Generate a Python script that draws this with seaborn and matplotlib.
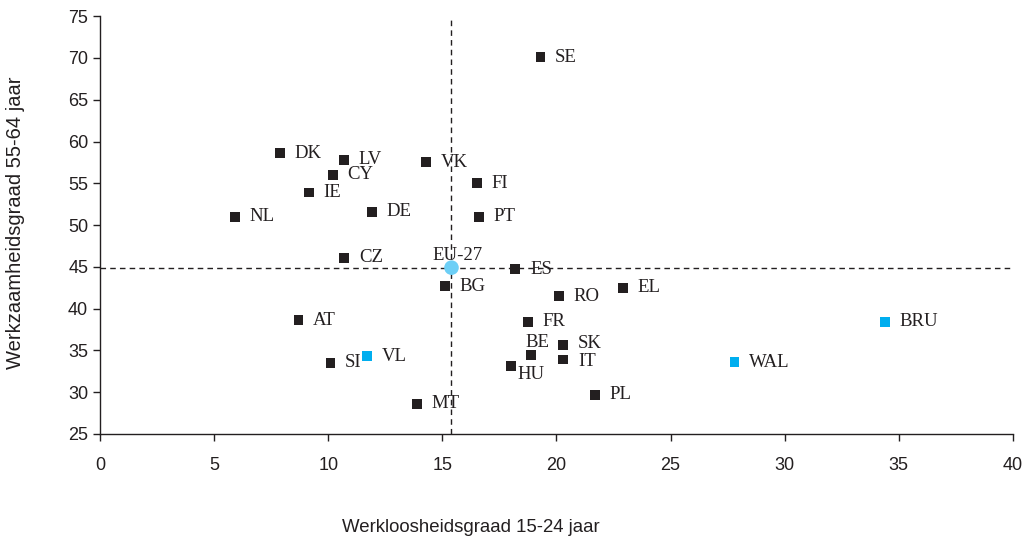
import matplotlib
matplotlib.use("Agg")
import matplotlib.pyplot as plt
import seaborn as sns
import pandas as pd

# data
codes = ["SE", "DK", "LV", "VK", "CY", "FI", "IE", "NL", "DE", "PT", "CZ",
         "ES", "BG", "RO", "EL", "AT", "FR", "SK", "BE", "IT", "SI", "HU",
         "PL", "MT", "VL", "WAL", "BRU", "EU-27"]
werkloosheid = [19.3, 7.9, 10.7, 14.3, 10.2, 16.5, 9.15, 5.9, 11.9, 16.6, 10.7,
                18.2, 15.1, 20.1, 22.9, 8.7, 18.75, 20.3, 18.9, 20.3, 10.1, 18.0,
                21.7, 13.9, 11.7, 27.8, 34.4, 15.4]
werkzaamheid = [70.1, 58.6, 57.8, 57.5, 56.0, 55.0, 53.9, 51.0, 51.6, 51.0, 46.1,
                44.7, 42.7, 41.5, 42.5, 38.6, 38.4, 35.6, 34.4, 33.9, 33.5, 33.1,
                29.7, 28.6, 34.3, 33.6, 38.4, 44.9]
groep = ["land"] * 24 + ["gewest"] * 3 + ["EU"]

eu_x = 15.4
eu_y = 44.9

df = pd.DataFrame({"code": codes, "x": werkloosheid, "y": werkzaamheid, "groep": groep})

sns.set_style("ticks")
plt.rcParams["font.family"] = ["Liberation Sans", "DejaVu Sans"]

fig, ax = plt.subplots(figsize=(10.31, 5.41), dpi=100)
fig.subplots_adjust(left=0.097, right=0.9825, top=0.970, bottom=0.198)

ax.axvline(eu_x, color="#231f20", ls=(0, (4, 3)), lw=1, zorder=1)
ax.axhline(eu_y, color="#231f20", ls=(0, (4, 3)), lw=1, zorder=1)

sns.scatterplot(data=df, x="x", y="y", hue="groep", style="groep", size="groep",
                palette={"land": "#231f20", "gewest": "#00aeef", "EU": "#6dcff6"},
                markers={"land": "s", "gewest": "s", "EU": "o"},
                sizes={"land": 50, "gewest": 50, "EU": 110},
                linewidth=0, legend=False, ax=ax, zorder=3)

# label offsets (points); default is just right of the marker
offsets = {"BE": (-4, 9.5), "HU": (5, -6), "EU-27": (4, 9),
           "SK": (10.5, 1.5), "IT": (10.5, -1.5)}
for c, xv, yv in zip(codes, werkloosheid, werkzaamheid):
    dx, dy = offsets.get(c, (10.5, 0))
    ha = "center" if c == "EU-27" else "left"
    ax.annotate(c, (xv, yv), xytext=(dx, dy), textcoords="offset points",
                ha=ha, va="center", fontsize=13.5, color="#231f20",
                family=["Liberation Serif", "DejaVu Serif"], zorder=4)

ax.set_xlim(0, 40)
ax.set_ylim(25, 75)
ax.set_xticks(range(0, 41, 5))
ax.set_yticks(range(25, 76, 5))
ax.tick_params(labelsize=13, length=5, width=1, color="#231f20", labelcolor="#231f20")
ax.tick_params(axis="x", pad=12)
ax.set_xlabel("")
ax.set_ylabel("")
sns.despine(ax=ax)
for s in ("left", "bottom"):
    ax.spines[s].set_color("#231f20")
    ax.spines[s].set_linewidth(1)

fig.text(0.015, 0.588, "Werkzaamheidsgraad 55-64 jaar", rotation=90, ha="center",
         va="center", fontsize=14.5, color="#231f20")
fig.text(0.457, 0.025, "Werkloosheidsgraad 15-24 jaar", ha="center", va="center",
         fontsize=13.4, color="#231f20")

fig.savefig("out.png", dpi=100)
